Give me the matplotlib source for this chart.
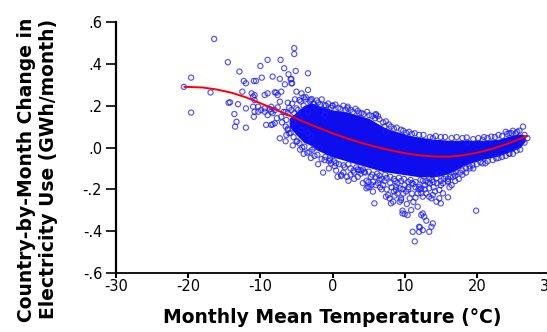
import matplotlib
matplotlib.use("Agg")
import matplotlib.pyplot as plt

# dense core of the cloud (upper / lower edge)
core_temp = [-6, -5, -4, -3, -2, -1, 0, 1, 2, 3, 4, 5, 6, 7, 8, 9, 10, 11, 12, 13,
             14, 15, 16, 17, 18, 19, 20, 21, 22, 23, 24, 25, 26, 26.7]
core_high = [0.14, 0.17, 0.20, 0.215, 0.20, 0.19, 0.18, 0.175, 0.17, 0.16, 0.15,
             0.14, 0.12, 0.10, 0.085, 0.075, 0.065, 0.055, 0.05, 0.045, 0.04,
             0.038, 0.035, 0.035, 0.035, 0.035, 0.035, 0.035, 0.037, 0.04, 0.05,
             0.06, 0.065, 0.06]
core_low = [0.10, 0.06, 0.025, 0.01, -0.015, -0.03, -0.045, -0.055, -0.065,
            -0.075, -0.085, -0.095, -0.105, -0.115, -0.12, -0.125, -0.13, -0.135,
            -0.14, -0.14, -0.14, -0.135, -0.125, -0.11, -0.09, -0.075, -0.065,
            -0.055, -0.048, -0.04, -0.028, -0.015, 0.0, 0.03]

# cold months, sparse points
cold_temp = [-20.6, -19.6, -19.6, -16.4, -16.9, -14.5, -14.4, -14.2, -13.1, -13.6,
             -13.5, -12.0, -13.3, -12.9, -12.3, -12.0, -10.9, -12.5, -11.2, -11.0,
             -10.8, -12.0, -11.0, -10.9, -10.0, -9.8, -10.6, -10.8, -9.4, -10.8,
             -10.3, -9.9, -10.3, -9.4, -8.5, -9.2, -8.5, -8.0, -9.0, -9.0, -9.4,
             -8.7, -8.5, -9.0, -8.3, -8.3]
cold_chg = [0.290, 0.334, 0.167, 0.519, 0.263, 0.408, 0.214, 0.216, 0.207, 0.160,
            0.100, 0.095, 0.123, 0.363, 0.318, 0.307, 0.318, 0.267, 0.259, 0.243,
            0.227, 0.187, 0.195, 0.147, 0.390, 0.334, 0.318, 0.251, 0.251, 0.171,
            0.195, 0.179, 0.171, 0.171, 0.171, 0.108, 0.108, 0.116, 0.419, 0.259,
            0.187, 0.183, 0.195, 0.155, 0.339, 0.111]

# between -8 and 0 C
mid_temp = [-7.2, -6.7, -6.1, -5.8, -5.6, -5.3, -5.3, -5.1, -3.4, -7.3, -5.7, -5.7,
            -6.6, -5.0, -4.3, -3.4, -8.0, -7.6, -7.1, -7.3, -6.2, -4.6, -3.0, -2.9,
            -3.1, -2.3, -1.1, -0.9, -1.1, -8.0, -4.8, -5.3, -3.4, -6.2, -7.1, -7.6,
            -8.3, -6.4, -5.7, -5.0, -4.6, -7.3, -6.4, -6.0, -6.2, -5.0, -4.6, -3.9,
            -2.5, -1.8, -4.3, -3.4, -3.0, -7.8, -7.0, -6.5, -7.7, -6.8, -5.5, -4.0,
            -3.7, -0.9, 0.0]
mid_chg = [0.419, 0.379, 0.350, 0.326, 0.307, 0.475, 0.447, 0.366, 0.355, 0.328,
           0.328, 0.307, 0.302, 0.267, 0.259, 0.275, 0.264, 0.251, 0.267, 0.219,
           0.214, 0.227, 0.227, 0.232, 0.220, 0.195, 0.203, 0.179, 0.155, 0.179,
           0.179, 0.164, 0.171, 0.164, 0.147, 0.192, 0.164, 0.132, 0.179, 0.187,
           0.147, 0.044, 0.060, 0.068, 0.084, 0.028, 0.020, 0.004, 0.000, -0.003,
           0.084, 0.068, 0.052, 0.262, 0.120, 0.100, 0.140, 0.170, 0.120, 0.200,
           0.240, 0.200, 0.200]

# below the core, mild months
low_temp = [-1.3, -0.2, 0.3, 0.7, 1.2, -1.1, -0.4, 1.2, 2.2, 4.0, 4.4, 4.7, 4.9,
            5.6, 5.8, 6.3, 5.6, 5.4, 6.5, 7.0, 5.1, 4.7, 7.7, 7.9, 8.1, 8.4, 7.4,
            8.8, 9.3, 9.7, 8.8, 9.5, 9.3, 9.5, 9.7, 9.7, 10.4, 10.0, 10.9, 11.8,
            12.3, 12.7, 13.0, 11.1, 12.0, 12.0, 13.4, 13.7, 13.9, 11.4, 12.1, 10.7,
            11.8, 12.5, 13.0, 13.4, 13.9, 12.0, 12.8, 13.5, 15.3, 13.4, 14.4, 14.8,
            15.7, 16.7, 16.0, 13.2, 12.3, 13.4, 14.8, 15.3, 16.0, 14.8, 14.4, 15.0,
            13.7, 12.3, 19.9, 12.5, 12.5, 16.0, 17.1, 19.0, 20.8, 22.7, 24.5, 11.5,
            11.9, 12.2, 3.7, 3.0, 2.5, 6.0, 7.2, 8.0, 9.0, 10.0, 10.5, 11.0, 10.2,
            9.0, 6.8, 8.5, 11.2, 10.3, 11.5, 16.5, 17.5, 18.0,
            -0.5, 0.5, 1.5, 2.0, 3.0, 3.5, 4.2, 5.0, 6.0, 6.6, 7.5, 8.2, 8.6, 9.8,
            10.5, 11.0, 12.8, 14.0, 15.0, 14.2, 16.2, 17.0, 18.5, 19.5, -2.0, -3.0,
            -4.0, -5.5, -6.5]
low_chg = [-0.120, -0.076, -0.089, -0.140, -0.130, -0.060, -0.052, -0.136, -0.159,
           -0.111, -0.116, -0.159, -0.188, -0.211, -0.267, -0.170, -0.164, -0.179,
           -0.155, -0.179, -0.190, -0.195, -0.227, -0.243, -0.267, -0.259, -0.235,
           -0.203, -0.195, -0.199, -0.188, -0.243, -0.259, -0.251, -0.302, -0.315,
           -0.323, -0.318, -0.299, -0.283, -0.323, -0.331, -0.350, -0.403, -0.403,
           -0.379, -0.403, -0.379, -0.363, -0.449, -0.382, -0.243, -0.219, -0.235,
           -0.219, -0.235, -0.227, -0.188, -0.179, -0.171, -0.171, -0.148, -0.148,
           -0.124, -0.140, -0.140, -0.164, -0.168, -0.195, -0.195, -0.203, -0.219,
           -0.238, -0.243, -0.259, -0.267, -0.243, -0.219, -0.302, -0.315, -0.395,
           -0.159, -0.116, -0.100, -0.076, -0.052, -0.028, -0.190, -0.200, -0.200,
           -0.108, -0.120, -0.130, -0.140, -0.160, -0.170, -0.170, -0.180, -0.200,
           -0.170, -0.210, -0.220, -0.200, -0.210, -0.260, -0.270, -0.240, -0.180,
           -0.150, -0.130,
           -0.100, -0.110, -0.120, -0.140, -0.150, -0.140, -0.170, -0.165, -0.180,
           -0.190, -0.200, -0.190, -0.230, -0.220, -0.190, -0.220, -0.200, -0.190,
           -0.180, -0.210, -0.190, -0.160, -0.120, -0.100, -0.080, -0.050, -0.030,
           0.010, 0.030]

# above the core, warm months
high_temp = [2.1, 2.1, 3.7, 6.0, 6.0, 7.2, 7.4, 13.9, 20.8, 18.7, 24.5, 24.8, 25.4,
             25.9, 26.4, 26.6, 26.6, 27.0, 26.2]
high_chg = [0.195, 0.187, 0.164, 0.160, 0.155, 0.100, 0.076, 0.045, 0.036, 0.023,
            0.069, 0.068, 0.068, 0.080, 0.100, 0.023, 0.060, 0.045, 0.030]

# loose points hugging the core
edge_temp = [-4.0, -2.0, -1.5, 0.0, 0.8, 1.5, 2.5, 3.2, 4.0, 4.8, 5.5, 6.5, 7.0,
             7.8, 8.5, 9.5, 10.2, 11.0, 12.0, 13.5, 15.0, 16.5, 18.0, 19.5, 21.5,
             22.5, 23.5, 24.2,
             -6.5, -6.0, -5.6, -5.2, -4.4, -3.8, -2.6, -2.2, -1.7, -0.6, -0.2, 0.4,
             1.1, 1.8, 2.8, 3.5, 4.3, 5.1, 5.9, 6.3, 7.4, 8.1, 8.9, 9.8, 10.6, 11.4,
             12.6, 14.3, 15.6, 17.2, 18.6, 20.2, 21.0, 22.0, 23.0, 24.0, 25.0, 25.6,
             -4.5, -3.5, -2.5, -1.5, -0.5, 0.5, 1.5, 2.5, 3.5, 4.5, 5.5, 6.5, 7.5,
             8.5, 9.5, 10.5, 11.5, 12.5, 14.0, 15.0, 16.0, 17.0, 18.0, 19.0, 20.0,
             21.5, 23.0, 24.5, 25.5,
             -6.2, -5.8, -5.4, -4.9, -4.2, -3.2, -2.8, -2.1, -1.0, -0.3, 0.2, 0.9,
             1.7, 2.2, 2.9, 3.3, 3.9, 4.2, 5.0, 5.3, 6.2, 6.8, 7.3, 8.0, 8.7, 9.2,
             9.9, 10.8, 11.2, 12.2, 13.0, 13.8, 14.5, 15.4, 16.3, 16.8, 17.7, 18.5,
             19.4, 20.5, 21.2, 22.2, 23.5, 24.0, 25.0, 26.0]
edge_chg = [0.240, 0.215, 0.230, 0.200, 0.190, 0.200, 0.180, 0.185, 0.165, 0.170,
            0.150, 0.135, 0.120, 0.110, 0.090, 0.085, 0.070, 0.065, 0.060, 0.050,
            0.050, 0.045, 0.045, 0.040, 0.045, 0.050, 0.055, 0.065,
            0.170, 0.190, 0.210, 0.230, 0.220, 0.230, 0.210, 0.225, 0.205, 0.210,
            0.190, 0.205, 0.185, 0.180, 0.170, 0.175, 0.160, 0.155, 0.140, 0.150,
            0.125, 0.100, 0.095, 0.080, 0.075, 0.068, 0.060, 0.055, 0.050, 0.050,
            0.048, 0.045, 0.050, 0.052, 0.060, 0.075, 0.080, 0.075,
            -0.010, -0.025, -0.040, -0.055, -0.065, -0.075, -0.085, -0.100,
            -0.105, -0.120, -0.130, -0.135, -0.145, -0.150, -0.160, -0.165,
            -0.165, -0.160, -0.165, -0.160, -0.150, -0.135, -0.110, -0.090,
            -0.080, -0.065, -0.050, -0.030, -0.015,
            0.090, 0.070, 0.050, 0.030, 0.000, -0.020, -0.010, -0.035, -0.045,
            -0.060, -0.065, -0.080, -0.095, -0.080, -0.110, -0.095, -0.125,
            -0.105, -0.115, -0.140, -0.125, -0.150, -0.130, -0.140, -0.160,
            -0.145, -0.150, -0.155, -0.175, -0.155, -0.160, -0.155, -0.170,
            -0.150, -0.140, -0.125, -0.120, -0.100, -0.085, -0.070, -0.075,
            -0.060, -0.045, -0.040, -0.030, -0.010]

# fitted curve
fit_temp = [-20.5, -18, -16, -14, -12, -10, -8, -6, -4, -2, 0, 2, 4, 6, 8, 10, 12,
            14, 16, 18, 20, 22, 24, 26, 27]
fit_chg = [0.290, 0.287, 0.277, 0.262, 0.240, 0.212, 0.183, 0.153, 0.123, 0.095,
           0.068, 0.044, 0.022, 0.003, -0.013, -0.027, -0.037, -0.043, -0.044,
           -0.038, -0.025, -0.008, 0.015, 0.042, 0.055]

xticks = [-30, -20, -10, 0, 10, 20, 30]
yticks = [0.6, 0.4, 0.2, 0.0, -0.2, -0.4, -0.6]
ytick_labels = ['.6', '.4', '.2', '.0', '-.2', '-.4', '-.6']

plt.rcParams['font.family'] = ['DejaVu Sans']

fig = plt.figure(figsize=(5.47, 3.32), dpi=100)
ax = fig.add_axes([0.2121, 0.1777, 0.7916, 0.756])

ax.fill_between(core_temp, core_low, core_high, color='#0000ee', lw=0, alpha=0.95)
all_t = cold_temp + mid_temp + low_temp + high_temp + edge_temp
all_c = cold_chg + mid_chg + low_chg + high_chg + edge_chg
ax.scatter(all_t, all_c, s=14, facecolors='none', edgecolors='#1a1aff',
           linewidths=0.85, alpha=0.75)
ax.plot(fit_temp, fit_chg, color='red', lw=1.4)

ax.set_xlim(-30, 30)
ax.set_ylim(-0.6, 0.6)
ax.set_xticks(xticks)
ax.set_xticklabels([str(t) for t in xticks])
ax.set_yticks(yticks)
ax.set_yticklabels(ytick_labels)
ax.spines['top'].set_visible(False)
ax.spines['right'].set_visible(False)
ax.spines['left'].set_linewidth(1.6)
ax.spines['bottom'].set_linewidth(1.3)
ax.tick_params(axis='y', length=7, width=1.2, pad=3, labelsize=10.5)
ax.tick_params(axis='x', length=3.5, width=1.5, pad=1, labelsize=10.5)

ax.set_xlabel('Monthly Mean Temperature (°C)', fontsize=13.5, fontweight='bold',
              labelpad=10)
fig.text(0.068, 0.49, 'Country-by-Month Change in\nElectricity Use (GWh/month)',
         rotation=90, ha='center', va='center', fontsize=13.5, fontweight='bold',
         multialignment='center', linespacing=1.2)

fig.savefig('out.png', dpi=100)
